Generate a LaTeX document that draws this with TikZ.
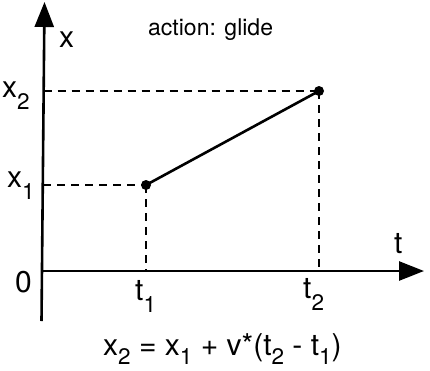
\documentclass[tikz,border=0pt]{standalone}
\usepackage{fontspec}
\setmainfont{TeX Gyre Heros}
\usetikzlibrary{arrows.meta}
\newcommand\sbs[1]{\raisebox{-0.4em}{\scalebox{0.75}{#1}}}
\newcommand\sbe[1]{\raisebox{-0.33em}{\scalebox{0.75}{#1}}}
\tikzset{
  axis/.style={line width=2.6pt,-{Triangle[length=25pt,width=19pt]}},
  guide/.style={line width=1.1pt,dash pattern=on 8pt off 6pt},
  seg/.style={line width=2.6pt},
  dot/.style={circle,fill=black,inner sep=0pt,minimum size=10pt},
  lbl/.style={anchor=base west,inner sep=0pt,font=\fontsize{30}{34}\selectfont},
  titletext/.style={anchor=base west,inner sep=0pt,font=\fontsize{23}{26}\selectfont}
}
\begin{document}
\begin{tikzpicture}[x=1pt,y=-1pt]
\useasboundingbox (0,0) rectangle (430,370);
% axes
\coordinate (o) at (42,271);
\coordinate (ytop) at (44.5,2);
\coordinate (ybot) at (41.5,321);
\coordinate (xend) at (424,271);
\draw[axis] (ybot) -- (ytop);
\draw[axis] (o) -- (xend);
% points
\node[dot] (p1) at (146,185) {};
\node[dot] (p2) at (319,91) {};
\coordinate (ax1) at (43,185);
\coordinate (ax2) at (43.5,91);
\coordinate (at1) at (146,271);
\coordinate (at2) at (319,271);
\draw[guide] (ax1) -- (p1.center);
\draw[guide] (ax2) -- (p2.center);
\draw[guide] (p1.center) -- (at1);
\draw[guide] (p2.center) -- (at2);
\draw[seg] (p1.center) -- (p2.center);
% labels
\node[lbl] (lx) at (59,47) {x};
\node[lbl] (lt) at (394,253) {t};
\node[lbl] (l0) at (15,292) {0};
\node[lbl] (lx2) at (2,97) {x\sbs{2}};
\node[lbl] (lx1) at (7,187) {x\sbs{1}};
\node[lbl] (lt1) at (135,300) {t\sbs{1}};
\node[lbl] (lt2) at (303,298) {t\sbs{2}};
\node[titletext] (act) at (148,35) {action: glide};
\node[lbl] (eq) at (103,355) {x\sbe{2} = x\sbe{1} + v*(t\sbe{2} - t\sbe{1})};
\end{tikzpicture}
\end{document}
